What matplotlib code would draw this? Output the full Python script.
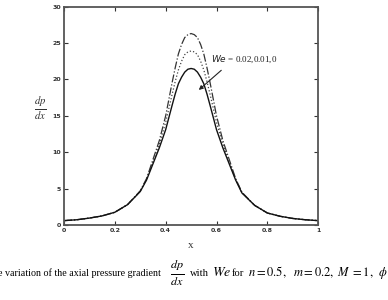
import matplotlib
matplotlib.use("Agg")
import matplotlib.pyplot as plt

# values
x = [0.0, 0.05, 0.1, 0.15, 0.2, 0.25, 0.3,
     0.325, 0.35, 0.375, 0.4,
     0.425, 0.4375, 0.45, 0.4625, 0.475, 0.4875, 0.5,
     0.5125, 0.525, 0.5375, 0.55, 0.5625, 0.575,
     0.6, 0.625, 0.65, 0.675,
     0.7, 0.75, 0.8, 0.85, 0.9, 0.95, 1.0]

dpdx_we002 = [0.6, 0.72, 0.95, 1.25, 1.75, 2.8, 4.7,
              6.4, 9.0, 11.6, 15.0,
              19.5, 21.6, 23.5, 24.8, 25.75, 26.15, 26.3,
              26.15, 25.75, 24.8, 23.5, 21.6, 19.5,
              15.0, 11.6, 9.0, 6.4,
              4.5, 2.7, 1.65, 1.2, 0.9, 0.72, 0.6]
dpdx_we001 = [0.6, 0.72, 0.95, 1.25, 1.75, 2.8, 4.65,
              6.3, 8.7, 11.1, 14.1,
              17.9, 19.7, 21.3, 22.5, 23.4, 23.78, 23.9,
              23.78, 23.4, 22.5, 21.3, 19.7, 17.9,
              14.1, 11.1, 8.7, 6.3,
              4.45, 2.7, 1.65, 1.2, 0.9, 0.72, 0.6]
dpdx_we0 = [0.6, 0.72, 0.95, 1.25, 1.75, 2.8, 4.6,
            6.2, 8.4, 10.6, 13.1,
            16.4, 18.0, 19.4, 20.3, 21.0, 21.4, 21.5,
            21.4, 21.0, 20.3, 19.4, 18.0, 16.4,
            13.1, 10.6, 8.4, 6.2,
            4.4, 2.7, 1.65, 1.2, 0.9, 0.72, 0.6]

xticks = [0, 0.2, 0.4, 0.6, 0.8, 1]
xticklabels = ["0", "0.2", "0.4", "0.6", "0.8", "1"]
yticks = [0, 5, 10, 15, 20, 25, 30]

W, H = 388.0, 300.0

fig = plt.figure(figsize=(3.88, 3.0), dpi=100)
ax = fig.add_axes([0.165, 0.25, 0.655, 0.728])

ax.plot(x, dpdx_we002, color="#333333", lw=0.9, ls="-.")
ax.plot(x, dpdx_we001, color="#444444", lw=0.9, ls=":")
ax.plot(x, dpdx_we0, color="#111111", lw=1.0, ls="-")

ax.set_xlim(0, 1)
ax.set_ylim(0, 30)
ax.set_xticks(xticks)
ax.set_xticklabels(xticklabels)
ax.set_yticks(yticks)
ax.tick_params(direction="in", length=3, width=0.8, labelsize=4.5,
               top=True, right=True, pad=2, colors="#333333")
for lab in ax.get_xticklabels() + ax.get_yticklabels():
    lab.set_fontweight("bold")
for sp in ax.spines.values():
    sp.set_color("#555555")
    sp.set_linewidth(1.3)

ax.set_xlabel("x", family="Liberation Serif", fontsize=8, color="#333333",
              labelpad=6)
fig.text(0.105, 0.64, r"$\frac{dp}{dx}$", fontsize=11, color="#333333",
         ha="center", va="center", math_fontfamily="stix")

ax.annotate("", xy=(0.522, 18.3), xytext=(0.627, 21.5),
            arrowprops=dict(arrowstyle="-|>", color="#222222", lw=0.8,
                            mutation_scale=6))
ax.text(0.578, 22.8, r"$We$ = 0.02,0.01,0", fontsize=6.5,
        family="Liberation Serif", va="center", color="#222222")


def cap(px, s, size, math=False):
    # caption pieces placed by pixel position, baseline at y = 276 px
    kw = dict(fontsize=size, va="baseline", ha="left")
    if math:
        kw["math_fontfamily"] = "stix"
    else:
        kw["family"] = "Liberation Serif"
    fig.text(px / W, 1 - 276 / H, s, **kw)


# caption below the chart (clipped at the edges as in the source)
cap(-2, "e variation of the axial pressure gradient", 7.2)
fig.text(177 / W, 1 - 273 / H, r"$\frac{dp}{dx}$", fontsize=12.5,
         ha="center", va="center", math_fontfamily="stix")
cap(190, "with", 7.6)
cap(212, r"$We$", 10, math=True)
cap(232, "for", 7.6)
cap(248, r"$n=0.5,$", 9, math=True)
cap(293, r"$m=0.2,$", 9, math=True)
cap(337, r"$M\ =1,$", 9, math=True)
cap(378, r"$\phi$", 9, math=True)

fig.savefig("out.png", dpi=100)
